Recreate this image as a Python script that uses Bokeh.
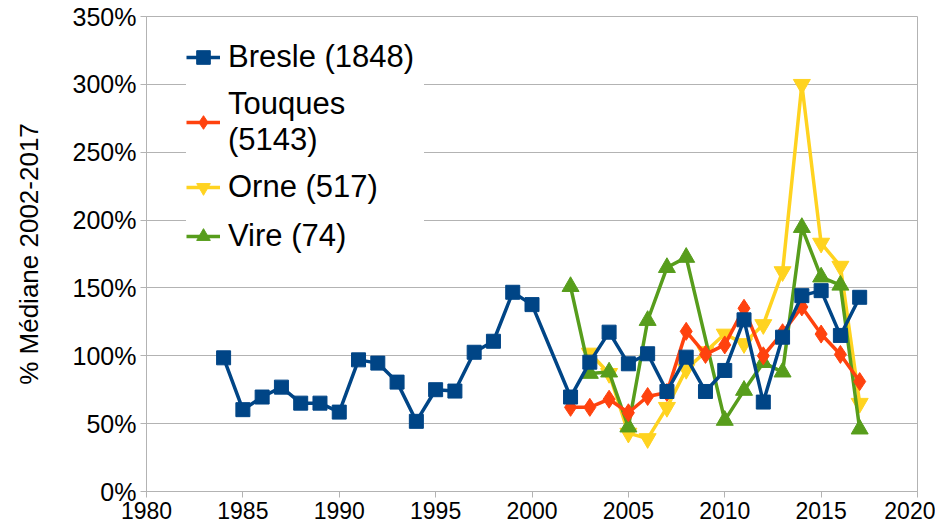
from bokeh.plotting import figure
from bokeh.models import Legend, LegendItem, SingleIntervalTicker, PrintfTickFormatter, Range1d
from bokeh.embed import file_html
from bokeh.resources import INLINE

# ---- data (percent of 2002-2017 median) ----
bresle_years = [1984, 1985, 1986, 1987, 1988, 1989, 1990, 1991, 1992, 1993, 1994, 1995, 1996,
                1997, 1998, 1999, 2000, 2002, 2003, 2004, 2005, 2006, 2007, 2008, 2009, 2010,
                2011, 2012, 2013, 2014, 2015, 2016, 2017]
bresle = [98.5, 60.3, 69.6, 76.9, 65.1, 65.1, 58.5, 97, 94.6, 80.6, 51.7, 75, 74,
          102.6, 110.7, 146.8, 137.7, 69.6, 95.3, 117.4, 94.1, 101.5, 73.7, 99, 73.7, 89.2,
          126.5, 65.9, 113.7, 144.3, 148, 115, 143.1]

touques_years = list(range(2002, 2018))
touques = [62, 62, 68, 58, 70, 73, 118, 101, 108, 135, 100, 117, 136, 116, 101, 81]

orne_years = list(range(2003, 2018))
orne = [102, 87, 43, 39, 62, 90, 103, 116, 109, 123, 162, 300, 183, 166, 65]

vire_years = [2002, 2003, 2004, 2005, 2006, 2007, 2008, 2010, 2011, 2012, 2013, 2014, 2015, 2016, 2017]
vire = [151, 87, 88, 47.5, 126, 165, 172.5, 52.4, 74.5, 95, 88, 194.5, 158, 152, 46]

labels = ["Bresle (1848)", "Touques\n(5143)", "Orne (517)", "Vire (74)"]
colors = ["#004586", "#ff420e", "#ffd320", "#579d1c"]

FONT = "Liberation Sans"

p = figure(width=935, height=528, output_backend="svg", toolbar_location=None,
           x_range=Range1d(1980, 2020), y_range=Range1d(0, 350),
           min_border_left=146, min_border_right=18, min_border_top=16, min_border_bottom=37)

p.background_fill_color = "white"
p.border_fill_color = "white"
p.outline_line_color = "#b3b3b3"
p.outline_line_width = 1

p.xgrid.grid_line_color = None
p.ygrid.grid_line_color = "#b3b3b3"
p.ygrid.grid_line_width = 1

p.xaxis.ticker = SingleIntervalTicker(interval=5)
p.yaxis.ticker = SingleIntervalTicker(interval=50)
p.yaxis.formatter = PrintfTickFormatter(format="%d%%")

for ax in (p.xaxis[0], p.yaxis[0]):
    ax.axis_line_color = "#b3b3b3"
    ax.major_tick_line_color = "#b3b3b3"
    ax.minor_tick_line_color = None
    ax.major_tick_in = 0
    ax.major_tick_out = 6
    ax.major_label_text_font = FONT
    ax.major_label_text_color = "black"

p.xaxis.major_label_text_font_size = "23px"
p.xaxis.major_label_standoff = 4
p.yaxis.major_label_text_font_size = "25px"
p.yaxis.major_label_standoff = 4

p.yaxis.axis_label = "% Médiane 2002-2017"
p.yaxis.axis_label_text_font = FONT
p.yaxis.axis_label_text_font_size = "26px"
p.yaxis.axis_label_text_font_style = "normal"
p.yaxis.axis_label_text_color = "black"
p.yaxis.axis_label_standoff = 26

LW = 3.5
# draw order: Orne, Vire, Touques, Bresle (Bresle on top)
r_orne_l = p.line(orne_years, orne, line_color=colors[2], line_width=LW)
r_orne_m = p.scatter(orne_years, orne, marker="inverted_triangle", size=17,
                     fill_color=colors[2], line_color=colors[2])
r_vire_l = p.line(vire_years, vire, line_color=colors[3], line_width=LW)
r_vire_m = p.scatter(vire_years, vire, marker="triangle", size=17,
                     fill_color=colors[3], line_color=colors[3])
r_tou_l = p.line(touques_years, touques, line_color=colors[1], line_width=LW)
r_tou_m = p.scatter(touques_years, touques, marker="diamond", size=18,
                    fill_color=colors[1], line_color=colors[1])
r_bre_l = p.line(bresle_years, bresle, line_color=colors[0], line_width=LW)
r_bre_m = p.scatter(bresle_years, bresle, marker="square", size=14,
                    fill_color=colors[0], line_color=colors[0])

legend = Legend(items=[
    LegendItem(label=labels[0], renderers=[r_bre_l, r_bre_m]),
    LegendItem(label=labels[1], renderers=[r_tou_l, r_tou_m]),
    LegendItem(label=labels[2], renderers=[r_orne_l, r_orne_m]),
    LegendItem(label=labels[3], renderers=[r_vire_l, r_vire_m]),
])
legend.location = (40, 235)
legend.margin = 0
legend.padding = 18
legend.spacing = 9
legend.glyph_width = 34
legend.glyph_height = 40
legend.label_standoff = 8
legend.label_width = 196
legend.label_text_font = FONT
legend.label_text_font_size = "31px"
legend.label_text_color = "black"
legend.border_line_color = None
legend.background_fill_color = "white"
legend.background_fill_alpha = 1.0
p.add_layout(legend, "center")

open("out.html", "w").write(file_html(p, INLINE))
